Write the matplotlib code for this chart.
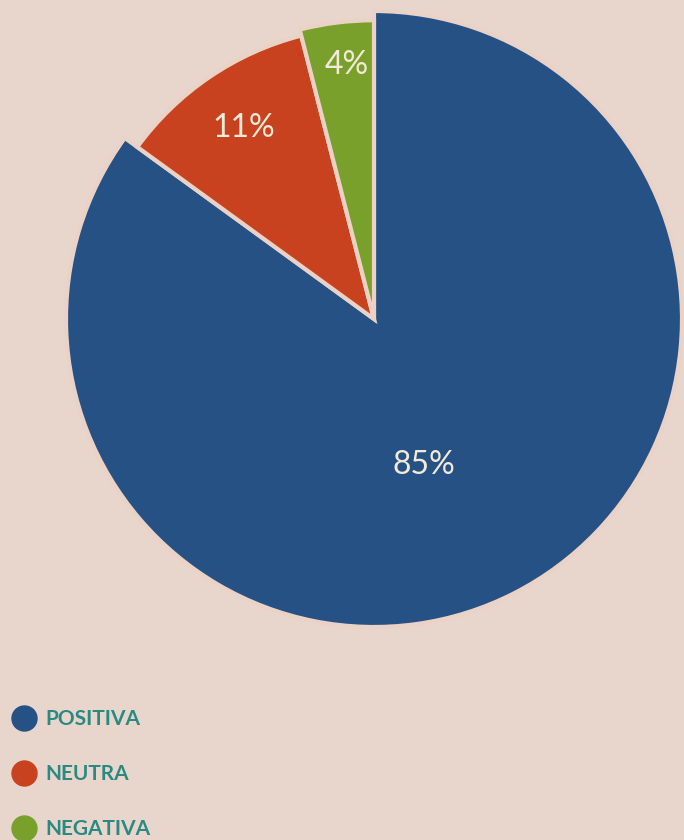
import matplotlib
matplotlib.use("Agg")
import matplotlib.pyplot as plt
from matplotlib.lines import Line2D
import numpy as np

# data
labels = ["POSITIVA", "NEUTRA", "NEGATIVA"]
values = [85, 11, 4]
colors = ["#255185", "#c9421f", "#7aa02c"]
label_dist = [0.5, 0.75, 0.83]   # how far out each % label sits
label_shift = [-8, 0, -1]        # small angle nudge (deg) for each label
radii = [1.0, 0.95, 0.97]        # the hand drawn slices are not all the same size

bg = "#e8d6cc"
txt_col = "#f3ead8"
legend_col = "#2a8a82"

fig = plt.figure(figsize=(6.84, 8.4), dpi=100, facecolor=bg)
ax = fig.add_axes([66 / 684, 212 / 840, 616 / 684, 618 / 840])
ax.set_facecolor(bg)

wedges, texts, autotexts = ax.pie(
    values, colors=colors, startangle=90, counterclock=False,
    autopct="%d%%", pctdistance=0.5,
    wedgeprops=dict(edgecolor="#ead3c6", linewidth=3),
    textprops=dict(color=txt_col, fontsize=23, family="Lato"))

for w, t, d, s, r in zip(wedges, autotexts, label_dist, label_shift, radii):
    w.set_radius(r)
    ang = np.deg2rad((w.theta1 + w.theta2) / 2 + s)
    t.set_position((d * np.cos(ang), d * np.sin(ang)))

ax.set_aspect("equal")
ax.set_xlim(-1, 1)
ax.set_ylim(-1, 1)
ax.axis("off")

handles = [Line2D([], [], marker="o", linestyle="", markersize=18,
                  markerfacecolor=c, markeredgecolor=c) for c in colors]
fig.legend(handles, labels, loc="upper left", bbox_to_anchor=(-0.01, 0.178),
           frameon=False, labelcolor=legend_col, handletextpad=0.4,
           labelspacing=1.68, handlelength=1.2,
           prop=dict(family="Lato", size=15, weight="bold"))

fig.savefig("out.png", dpi=100, facecolor=bg)
